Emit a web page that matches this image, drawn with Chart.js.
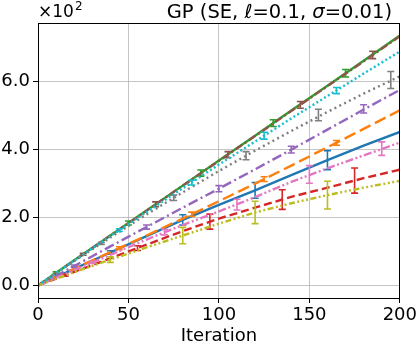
<!DOCTYPE html>
<html>
<head>
  <title>GP (SE) iterations</title>
  <script src="https://cdn.jsdelivr.net/npm/chart.js"></script>
  <style>
    body { margin: 0; background: #fff; }
  </style>
</head>
<body>
  <div style="width: 419px; height: 343px;">
    <canvas id="gpPlot" width="419" height="343"></canvas>
  </div>

  <script>
    // x positions of the curves
    const iterations = [0, 20, 40, 60, 80, 100, 120, 140, 160, 180, 200];

    // mean curves (real units, axis shows them x10^2)
    const c0 = [0, 49, 97, 145, 193, 237, 280, 325, 369, 412, 452];
    const c1 = [0, 49, 98, 147, 197, 248, 300, 353, 407, 461, 516];
    const c2 = [0, 74, 147, 221, 294, 368, 441, 515, 588, 662, 736];
    const c3 = [0, 40, 80, 120, 160, 197, 229, 261, 288, 316, 341];
    const c4 = [0, 57, 115, 172, 229, 285, 342, 400, 459, 518, 576];
    const c5 = [0, 73, 147, 220, 294, 367, 440, 514, 587, 660, 734];
    const c6 = [0, 45, 90, 135, 178, 218, 260, 305, 345, 383, 421];
    const c7 = [0, 72, 141, 209, 274, 337, 397, 455, 511, 565, 616];
    const c8 = [0, 39, 76, 112, 147, 182, 215, 242, 266, 288, 308];
    const c9 = [0, 73, 145, 216, 286, 356, 424, 492, 558, 624, 689];

    // error bars: where, centre, half size
    const e0x = [40, 80, 120, 160],          e0y = [97, 193, 280, 369],       e0h = [5, 15, 23, 28];
    const e1x = [45, 85, 125, 165],          e1y = [110, 210, 313, 420],      e1h = [4, 6, 7, 7];
    const e2x = [10, 50, 90, 130, 170],      e2y = [37, 184, 331, 478, 625],  e2h = [3, 6, 9, 10, 11];
    const e3x = [15, 55, 95, 135, 175],      e3y = [30, 110, 188, 253, 309],  e3h = [3, 7, 22, 29, 37];
    const e4x = [20, 60, 100, 140, 180],     e4y = [57, 172, 285, 400, 520],  e4h = [3, 6, 9, 10, 12];
    const e5x = [25, 65, 105, 145, 185],     e5y = [92, 239, 385, 532, 679],  e5h = [3, 7, 9, 10, 11];
    const e6x = [30, 70, 110, 150, 190],     e6y = [68, 157, 238, 327, 403],  e6h = [3, 8, 16, 26, 20];
    const e7x = [35, 75, 115, 155, 195],     e7y = [124, 258, 382, 502, 605], e7h = [3, 8, 12, 17, 25];
    const e8x = [40, 80, 120, 160],          e8y = [76, 147, 215, 266],       e8h = [8, 24, 33, 41];
    const e9x = [45, 85, 125, 165],          e9y = [163, 303, 441, 574],      e9h = [4, 7, 10, 9];

    const yTicks = [0, 200, 400, 600];
    const xTicks = [0, 50, 100, 150, 200];

    const colors = ['#1f77b4', '#ff7f0e', '#2ca02c', '#d62728', '#9467bd',
                    '#8c564b', '#e377c2', '#7f7f7f', '#bcbd22', '#17becf'];
    const dashes = [[], [12, 5], [], [8, 4], [10, 3.5, 2, 3.5],
                    [8, 3, 2, 3], [8, 2.5, 2, 2.5, 2, 2.5], [2, 3.4], [6, 2.5, 2, 2.5, 2, 2.5, 2, 2.5], [2, 2.5]];

    const curves = [c0, c1, c2, c3, c4, c5, c6, c7, c8, c9];
    const errs = [
      [e0x, e0y, e0h], [e1x, e1y, e1h], [e2x, e2y, e2h], [e3x, e3y, e3h], [e4x, e4y, e4h],
      [e5x, e5y, e5h], [e6x, e6y, e6h], [e7x, e7y, e7h], [e8x, e8y, e8h], [e9x, e9y, e9h]
    ];

    const FONT = "'DejaVu Sans', sans-serif";

    // error bars drawn right after their own line, so later series stay on top
    const errorBars = {
      id: 'errorBars',
      afterDatasetDraw(chart, args) {
        const i = args.index;
        const [ex, ey, eh] = errs[i];
        const xs = chart.scales.x, ys = chart.scales.y;
        const ctx = chart.ctx;
        ctx.save();
        ctx.strokeStyle = colors[i];
        ctx.lineWidth = 1.6;
        ctx.setLineDash([]);
        for (let k = 0; k < ex.length; k++) {
          const px = xs.getPixelForValue(ex[k]);
          const top = ys.getPixelForValue(ey[k] + eh[k]);
          const bot = ys.getPixelForValue(ey[k] - eh[k]);
          ctx.beginPath();
          ctx.moveTo(px, top); ctx.lineTo(px, bot);
          ctx.moveTo(px - 3.5, top); ctx.lineTo(px + 3.5, top);
          ctx.moveTo(px - 3.5, bot); ctx.lineTo(px + 3.5, bot);
          ctx.stroke();
        }
        ctx.restore();
      }
    };

    // frame, offset label and title with italic symbols
    const decorations = {
      id: 'decorations',
      afterDraw(chart) {
        const ctx = chart.ctx;
        const a = chart.chartArea;
        ctx.save();
        ctx.strokeStyle = '#000';
        ctx.lineWidth = 1;
        ctx.strokeRect(Math.round(a.left) + 0.5, Math.round(a.top) + 0.5,
                       Math.round(a.right - a.left) - 1, Math.round(a.bottom - a.top));

        ctx.fillStyle = '#000';
        ctx.textBaseline = 'alphabetic';
        ctx.textAlign = 'left';
        ctx.font = '17px ' + FONT;
        ctx.fillText('\u00d710', a.left, 17);
        const w = ctx.measureText('\u00d710').width;
        ctx.font = '12px ' + FONT;
        ctx.fillText('2', a.left + w + 1, 10);

        const parts = [['GP (SE, ', false], ['\u2113', true], ['=0.1, ', false],
                       ['\u03c3', true], ['=0.01)', false]];
        const size = '19.5px ';
        let total = 0;
        parts.forEach(p => {
          ctx.font = (p[1] ? 'italic ' : '') + size + FONT;
          total += ctx.measureText(p[0]).width;
        });
        let x = 392 - total;
        parts.forEach(p => {
          ctx.font = (p[1] ? 'italic ' : '') + size + FONT;
          ctx.fillText(p[0], x, 18);
          x += ctx.measureText(p[0]).width;
        });
        ctx.restore();
      }
    };

    function createPlot() {
      const ctx = document.getElementById('gpPlot').getContext('2d');

      const datasets = curves.map((c, i) => ({
        label: 'C' + i,
        data: iterations.map((it, k) => ({ x: it, y: c[k] })),
        borderColor: colors[i],
        backgroundColor: colors[i],
        borderWidth: 2.4,
        borderDash: dashes[i],
        pointRadius: 0,
        fill: false,
        tension: 0,
        order: 10 - i
      }));

      new Chart(ctx, {
        type: 'line',
        data: { datasets },
        options: {
          responsive: false,
          animation: false,
          layout: { padding: { top: 23, right: 19, left: 0, bottom: 0 } },
          plugins: {
            legend: { display: false },
            tooltip: { enabled: false }
          },
          scales: {
            x: {
              type: 'linear',
              min: 0,
              max: 200,
              afterBuildTicks: s => { s.ticks = xTicks.map(v => ({ value: v })); },
              afterFit: s => { s.height = 45; },
              ticks: {
                color: '#000',
                font: { family: FONT, size: 18 },
                padding: 2,
                maxRotation: 0
              },
              grid: { color: 'rgba(176,176,176,0.75)', lineWidth: 1, tickColor: '#000', tickLength: 5 },
              border: { color: '#000', width: 1 },
              title: {
                display: true,
                text: 'Iteration',
                color: '#000',
                font: { family: FONT, size: 18 },
                padding: { top: 0, bottom: -4 }
              }
            },
            y: {
              min: -37,
              max: 773,
              afterBuildTicks: s => { s.ticks = yTicks.map(v => ({ value: v })); },
              afterFit: s => { s.width = 38; },
              ticks: {
                color: '#000',
                font: { family: FONT, size: 18 },
                padding: 3,
                callback: v => (v / 100).toFixed(1)
              },
              grid: { color: 'rgba(176,176,176,0.75)', lineWidth: 1, tickColor: '#000', tickLength: 5 },
              border: { color: '#000', width: 1 }
            }
          }
        },
        plugins: [errorBars, decorations]
      });
    }

    window.onload = createPlot;
  </script>
</body>
</html>
